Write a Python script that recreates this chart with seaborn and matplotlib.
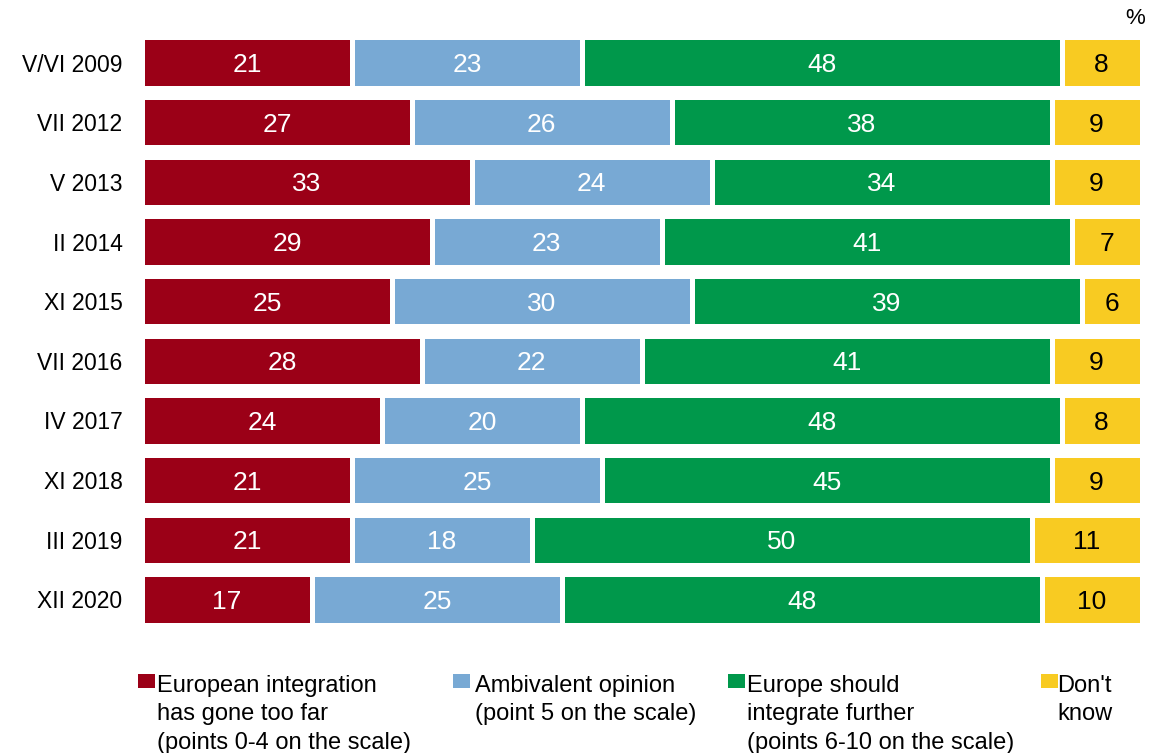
import matplotlib as mpl
import matplotlib.pyplot as plt
from matplotlib.patches import Rectangle
import numpy as np
import seaborn as sns

mpl.use('Agg')

# survey waves and answer shares (%)
waves = ['V/VI 2009', 'VII 2012', 'V 2013', 'II 2014', 'XI 2015',
         'VII 2016', 'IV 2017', 'XI 2018', 'III 2019', 'XII 2020']
too_far = [21, 27, 33, 29, 25, 28, 24, 21, 21, 17]
ambivalent = [23, 26, 24, 23, 30, 22, 20, 25, 18, 25]
further = [48, 38, 34, 41, 39, 41, 48, 45, 50, 48]
dont_know = [8, 9, 9, 7, 6, 9, 8, 9, 11, 10]

series_labels = ['European integration\nhas gone too far\n(points 0-4 on the scale)',
                 'Ambivalent opinion\n(point 5 on the scale)',
                 'Europe should\nintegrate further\n(points 6-10 on the scale)',
                 "Don't\nknow"]
colors = ['#9b0017', '#78a9d4', '#00984b', '#f8cb22']
text_colors = ['white', 'white', 'white', 'black']

# general settings
sns.set_theme(style='white')
plt.rcParams['font.family'] = ['Liberation Sans', 'DejaVu Sans']
plt.rcParams['text.color'] = 'black'

fig = plt.figure(figsize=(11.53, 7.53), dpi=100)
ax = fig.add_axes([142 / 1153, 1 - 629.3 / 753, 999.5 / 1153, 596.6 / 753])

values = np.array([too_far, ambivalent, further, dont_know])
cum = np.cumsum(values, axis=0)

# stacked bars: draw cumulative totals, longest first
for i in reversed(range(len(values))):
    sns.barplot(x=cum[i], y=waves, color=colors[i], orient='h', width=0.84,
                edgecolor='white', linewidth=3.6, saturation=1, ax=ax)

# value labels
mids = cum - values / 2
for i in range(len(values)):
    for j in range(len(waves)):
        ax.text(mids[i, j], j, str(values[i, j]), ha='center', va='center_baseline',
                fontsize=19, color=text_colors[i])

ax.set_xlim(0, 100)
ax.set_ylim(len(waves) - 0.5, -0.5)
ax.set_xlabel('')
ax.set_ylabel('')
ax.set_xticks([])
ax.tick_params(axis='y', length=0, pad=14, labelsize=16.5, labelcolor='black')
sns.despine(ax=ax, left=True, bottom=True)

fig.text(1135 / 1153, 1 - 18 / 753, '%', ha='center', va='center', fontsize=16)

# legend drawn by hand
square_x = [138, 453, 728, 1041]
text_x = [157, 475, 747, 1057]
for sx, tx, label, c in zip(square_x, text_x, series_labels, colors):
    fig.patches.append(Rectangle((sx / 1153, 1 - 688 / 753), 17 / 1153, 14 / 753,
                                 transform=fig.transFigure, color=c, lw=0))
    fig.text(tx / 1153, 1 - 675 / 753, label, ha='left', va='top',
             fontsize=17, linespacing=1.38)

plt.savefig('out.png', dpi=100)
plt.close()
